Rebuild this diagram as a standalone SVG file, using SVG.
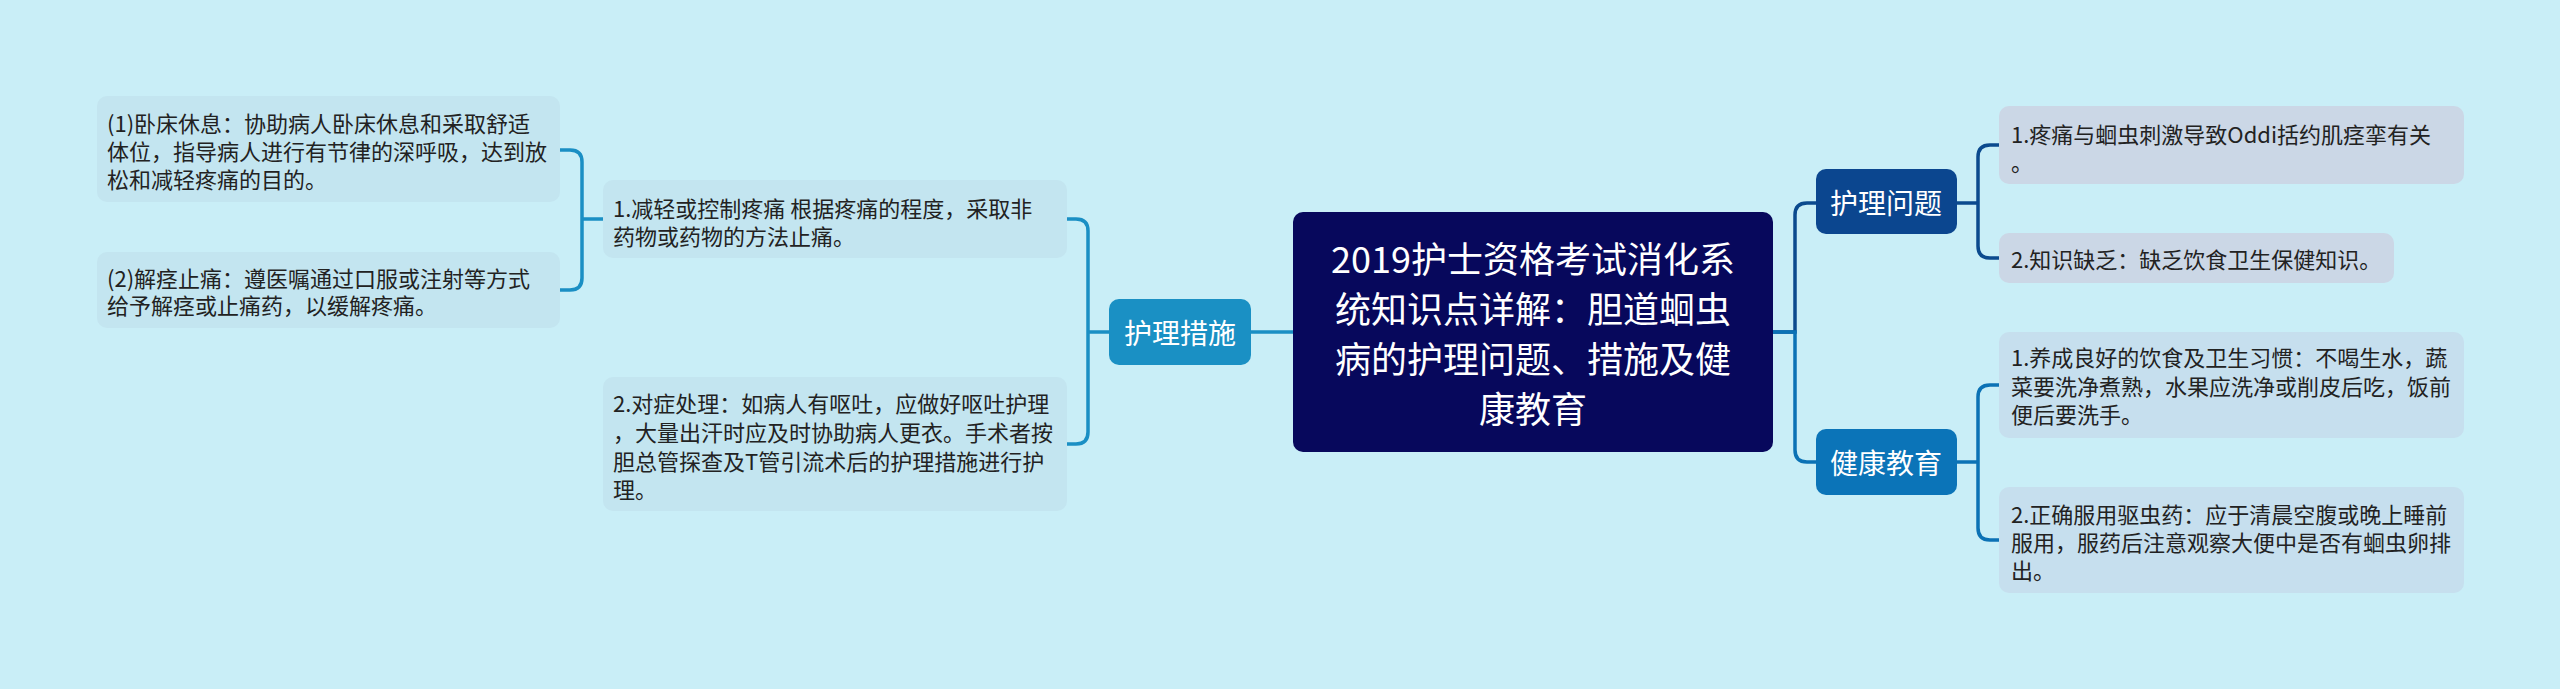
<svg xmlns="http://www.w3.org/2000/svg" width="2560" height="689" viewBox="0 0 2560 689">
<style>
.t{font-family:"Noto Sans CJK SC","Microsoft YaHei",sans-serif;}
.leaf{font-size:22px;fill:#222;dominant-baseline:central;}
.br{font-size:28px;fill:#fff;dominant-baseline:central;text-anchor:middle;}
.root{font-size:36px;fill:#fff;dominant-baseline:central;text-anchor:middle;}
.c{fill:none;stroke-width:3.5;stroke-linecap:round;}
</style>
<rect width="2560" height="689" fill="#c9eef7"/>
<g id="connectors">
<path class="c" stroke="#1a8fc4" d="M1293,332 H1251"/>
<path class="c" stroke="#1a8fc4" d="M1109,332 H1088 M1088,332 V231 Q1088,219 1076,219 H1067 M1088,332 V432 Q1088,444 1076,444 H1067"/>
<path class="c" stroke="#1a8fc4" d="M603,219 H582 M582,219 V162 Q582,150 570,150 H560 M582,219 V278 Q582,290 570,290 H560"/>
<path class="c" stroke="#0b4a8e" d="M1773,332 H1795 V215 Q1795,203 1807,203 H1816"/>
<path class="c" stroke="#0b72b5" d="M1773,332 H1795 V450 Q1795,462 1807,462 H1816"/>
<path class="c" stroke="#0b4a8e" d="M1957,203 H1978 M1978,203 V157 Q1978,145 1990,145 H1999 M1978,203 V246 Q1978,258 1990,258 H1999"/>
<path class="c" stroke="#0b72b5" d="M1957,462 H1978 M1978,462 V397 Q1978,385 1990,385 H1999 M1978,462 V528 Q1978,540 1990,540 H1999"/>
</g>
<g id="root">
<rect x="1293" y="212" width="480" height="240" rx="10" fill="#07085c"/>
<text class="t root" x="1533" y="257">2019护士资格考试消化系</text>
<text class="t root" x="1533" y="307">统知识点详解：胆道蛔虫</text>
<text class="t root" x="1533" y="357">病的护理问题、措施及健</text>
<text class="t root" x="1533" y="407">康教育</text>
</g>
<g id="b1">
<rect x="1109" y="299" width="142" height="66" rx="10" fill="#1a90c4"/>
<text class="t br" x="1180" y="332">护理措施</text>
</g>
<g id="b1c1">
<rect x="603" y="180" width="464" height="78" rx="10" fill="#c3e5f0"/>
<text class="t leaf" x="613" y="207">1.减轻或控制疼痛 根据疼痛的程度，采取非</text>
<text class="t leaf" x="613" y="235">药物或药物的方法止痛。</text>
</g>
<g id="b1c1a">
<rect x="97" y="96" width="463" height="106" rx="10" fill="#c3e5f0"/>
<text class="t leaf" x="107" y="122">(1)卧床休息：协助病人卧床休息和采取舒适</text>
<text class="t leaf" x="107" y="150">体位，指导病人进行有节律的深呼吸，达到放</text>
<text class="t leaf" x="107" y="178">松和减轻疼痛的目的。</text>
</g>
<g id="b1c1b">
<rect x="97" y="252" width="463" height="76" rx="10" fill="#c3e5f0"/>
<text class="t leaf" x="107" y="277">(2)解痉止痛：遵医嘱通过口服或注射等方式</text>
<text class="t leaf" x="107" y="304">给予解痉或止痛药，以缓解疼痛。</text>
</g>
<g id="b1c2">
<rect x="603" y="377" width="464" height="134" rx="10" fill="#c3e5f0"/>
<text class="t leaf" x="613" y="402">2.对症处理：如病人有呕吐，应做好呕吐护理</text>
<text class="t leaf" x="613" y="431">，大量出汗时应及时协助病人更衣。手术者按</text>
<text class="t leaf" x="613" y="460">胆总管探查及T管引流术后的护理措施进行护</text>
<text class="t leaf" x="613" y="488">理。</text>
</g>
<g id="b2">
<rect x="1816" y="169" width="141" height="65" rx="10" fill="#0b468f"/>
<text class="t br" x="1886" y="202">护理问题</text>
</g>
<g id="b2c1">
<rect x="1999" y="106" width="465" height="78" rx="10" fill="#cbd7e6"/>
<text class="t leaf" x="2011" y="133">1.疼痛与蛔虫刺激导致Oddi括约肌痉挛有关</text>
<text class="t leaf" x="2011" y="161">。</text>
</g>
<g id="b2c2">
<rect x="1999" y="233" width="395" height="50" rx="10" fill="#cbd7e6"/>
<text class="t leaf" x="2011" y="258">2.知识缺乏：缺乏饮食卫生保健知识。</text>
</g>
<g id="b3">
<rect x="1816" y="429" width="141" height="66" rx="10" fill="#0b74b8"/>
<text class="t br" x="1886" y="462">健康教育</text>
</g>
<g id="b3c1">
<rect x="1999" y="332" width="465" height="106" rx="10" fill="#c6dfee"/>
<text class="t leaf" x="2011" y="356">1.养成良好的饮食及卫生习惯：不喝生水，蔬</text>
<text class="t leaf" x="2011" y="385">菜要洗净煮熟，水果应洗净或削皮后吃，饭前</text>
<text class="t leaf" x="2011" y="413">便后要洗手。</text>
</g>
<g id="b3c2">
<rect x="1999" y="487" width="465" height="106" rx="10" fill="#c6dfee"/>
<text class="t leaf" x="2011" y="513">2.正确服用驱虫药：应于清晨空腹或晚上睡前</text>
<text class="t leaf" x="2011" y="541">服用，服药后注意观察大便中是否有蛔虫卵排</text>
<text class="t leaf" x="2011" y="569">出。</text>
</g>
</svg>
